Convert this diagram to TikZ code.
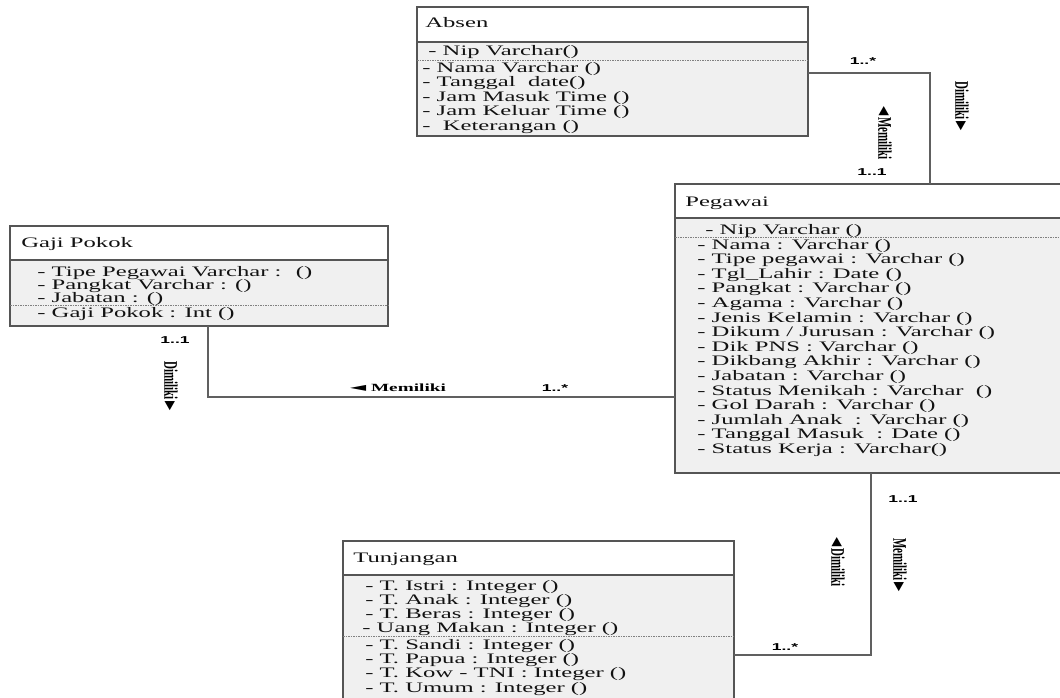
\documentclass[tikz,border=0pt]{standalone}
\usepackage{fontspec}
\setmainfont{Liberation Serif}
\newfontfamily\multfont{Liberation Sans}
\newfontfamily\symfont{DejaVu Sans}
\usepackage{xcolor}

\definecolor{boxline}{HTML}{555555}
\definecolor{bodyfill}{HTML}{F0F0F0}
\definecolor{linkgray}{HTML}{606060}
\definecolor{inkdark}{HTML}{121212}

\newcommand{\tipL}{{\symfont\fontsize{12}{12}\selectfont ◄}}
\newcommand{\tipR}{{\symfont\fontsize{12}{12}\selectfont ►}}

\tikzset{
  classbox/.style={draw=boxline,line width=1.3pt,fill=bodyfill,anchor=north west,inner sep=0pt,outer sep=0pt},
  headbox/.style={draw=boxline,line width=1.3pt,fill=white,anchor=north west,inner sep=0pt,outer sep=0pt},
  title/.style={anchor=base west,inner sep=0pt,xscale=1.7,text=inkdark,font=\fontsize{14.5}{16}\selectfont},
  attr/.style={anchor=base west,inner sep=0pt,xscale=1.7,text=inkdark,font=\fontsize{14.5}{16}\selectfont},
  sepline/.style={draw=gray,line width=0.7pt,dash pattern=on 1.5pt off 1pt},
  link/.style={draw=linkgray,line width=1.4pt},
  mult/.style={inner sep=0pt,xscale=1.75,font=\multfont\bfseries\fontsize{10}{11}\selectfont},
  role/.style={inner sep=0pt,xscale=1.75,font=\bfseries\fontsize{11}{12}\selectfont}
}

\begin{document}
\begin{tikzpicture}[x=1pt,y=-1pt]
\useasboundingbox (0,0) rectangle (1060,698);

% Absen
\node[classbox,minimum width=391pt,minimum height=129pt] (absen) at (417,7) {};
\node[headbox,minimum width=391pt,minimum height=35pt] (absenHead) at (417,7) {};
\node[title] (absenName) at (425,28) {Absen};
\node[attr] (ab0) at (428,56) {- Nip Varchar()};
\draw[sepline] (absen.west |- 0,60) -- (absen.east |- 0,60);
\node[attr] (ab1) at (422,72.5) {- Nama Varchar ()};
\node[attr] (ab2) at (422,87) {- Tanggal~ date()};
\node[attr] (ab3) at (422,101.5) {- Jam Masuk Time ()};
\node[attr] (ab4) at (422,116) {- Jam Keluar Time ()};
\node[attr] (ab5) at (422,130.5) {-~ Keterangan ()};

% Pegawai
\node[classbox,minimum width=400pt,minimum height=289pt] (pegawai) at (675,184) {};
\node[headbox,minimum width=400pt,minimum height=34pt] (pegawaiHead) at (675,184) {};
\node[title] (pegawaiName) at (685,206) {Pegawai};
\node[attr] (pg0) at (705,234) {- Nip Varchar ()};
\draw[sepline] (pegawai.west |- 0,237) -- (1060,237);
\node[attr] (pg1) at (697,249) {- Nama : Varchar ()};
\node[attr] (pg2) at (697,263.6) {- Tipe pegawai : Varchar ()};
\node[attr] (pg3) at (697,278.2) {- Tgl\_Lahir : Date ()};
\node[attr] (pg4) at (697,292.8) {- Pangkat : Varchar ()};
\node[attr] (pg5) at (697,307.4) {- Agama : Varchar ()};
\node[attr] (pg6) at (697,322) {- Jenis Kelamin : Varchar ()};
\node[attr] (pg7) at (697,336.6) {- Dikum / Jurusan : Varchar ()};
\node[attr] (pg8) at (697,351.2) {- Dik PNS : Varchar ()};
\node[attr] (pg9) at (697,365.8) {- Dikbang Akhir : Varchar ()};
\node[attr] (pg10) at (697,380.4) {- Jabatan : Varchar ()};
\node[attr] (pg11) at (697,395) {- Status Menikah : Varchar~ ()};
\node[attr] (pg12) at (697,409.6) {- Gol Darah : Varchar ()};
\node[attr] (pg13) at (697,424.2) {- Jumlah Anak~ : Varchar ()};
\node[attr] (pg14) at (697,438.8) {- Tanggal Masuk~ : Date ()};
\node[attr] (pg15) at (697,453.4) {- Status Kerja : Varchar()};

% Gaji Pokok
\node[classbox,minimum width=378pt,minimum height=100pt] (gaji) at (10,226) {};
\node[headbox,minimum width=378pt,minimum height=34pt] (gajiHead) at (10,226) {};
\node[title] (gajiName) at (21,247) {Gaji Pokok};
\node[attr] (gp1) at (37,276) {- Tipe Pegawai Varchar :~ ()};
\node[attr] (gp2) at (37,289) {- Pangkat Varchar : ()};
\node[attr] (gp3) at (37,302) {- Jabatan : ()};
\draw[sepline] (gaji.west |- 0,305.5) -- (gaji.east |- 0,305.5);
\node[attr] (gp4) at (37,317) {- Gaji Pokok : Int ()};

% Tunjangan
\node[classbox,minimum width=391pt,minimum height=158pt] (tunjangan) at (343,541) {};
\node[headbox,minimum width=391pt,minimum height=34pt] (tunjanganHead) at (343,541) {};
\node[title] (tunjanganName) at (353,562) {Tunjangan};
\node[attr] (tj1) at (365,590) {- T. Istri : Integer ()};
\node[attr] (tj2) at (365,604) {- T. Anak : Integer ()};
\node[attr] (tj3) at (365,618) {- T. Beras : Integer ()};
\node[attr] (tj4) at (362,632) {- Uang Makan : Integer ()};
\draw[sepline] (tunjangan.west |- 0,636) -- (tunjangan.east |- 0,636);
\node[attr] (tj5) at (365,649) {- T. Sandi : Integer ()};
\node[attr] (tj6) at (365,663) {- T. Papua : Integer ()};
\node[attr] (tj7) at (365,677) {- T. Kow - TNI : Integer ()};
\node[attr] (tj8) at (365,692) {- T. Umum : Integer ()};

% relasi
\coordinate (apBend) at (930,73);
\coordinate (gpBend) at (208,397);
\coordinate (ptBend) at (871,655);
\draw[link] (absen.east |- apBend) -- (apBend) -- (pegawai.north -| apBend);
\draw[link] (gaji.south -| gpBend) -- (gpBend) -- (pegawai.west |- gpBend);
\draw[link] (pegawai.south -| ptBend) -- (ptBend) -- (tunjangan.east |- ptBend);

\node[mult] (apMany) at (863,61) {1..*};
\node[mult] (apOne) at (872,172) {1..1};
\node[role,rotate=-90] (apHas) at (885,133) {\tipL\,Memiliki};
\node[role,rotate=-90] (apOwned) at (962,106) {Dimiliki\,\tipR};

\node[mult] (gpOne) at (175,340) {1..1};
\node[role,rotate=-90] (gpOwned) at (171,386) {Dimiliki\,\tipR};
\node[role] (gpHas) at (398,388) {\tipL{} Memiliki};
\node[mult] (gpMany) at (555,388) {1..*};

\node[mult] (ptOne) at (903,499) {1..1};
\node[role,rotate=-90] (ptOwned) at (838,562) {\tipL\,Dimiliki};
\node[role,rotate=-90] (ptHas) at (900,565) {Memiliki\,\tipR};
\node[mult] (ptMany) at (785,647) {1..*};
\end{tikzpicture}
\end{document}
